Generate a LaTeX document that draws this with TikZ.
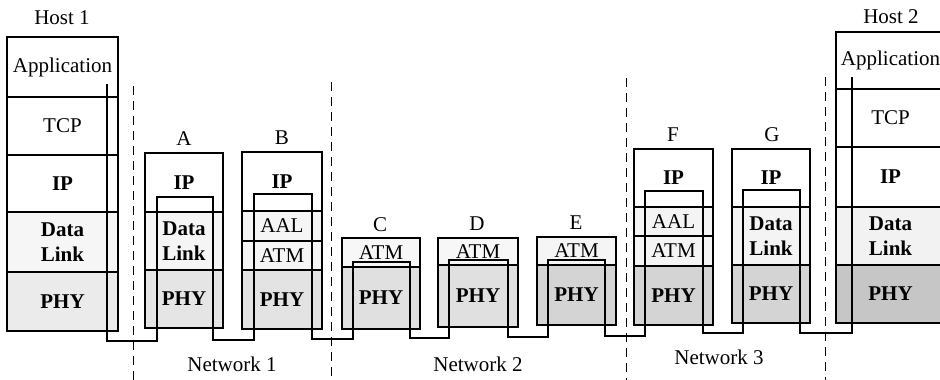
\documentclass[tikz,border=0pt]{standalone}
\usepackage{fontspec}
\setmainfont{Liberation Serif}
\newcommand{\stackrow}[7]{\node[layer, fill=#6, minimum width={(#4-#2)*1pt}, minimum height={(#5-#3)*1pt}] (#1) at ({(#2+#4)/2},{(#3+#5)/2}) {#7};}
\begin{document}
\begin{tikzpicture}[x=1pt,y=-1pt,
  layer/.style={draw=black, line width=1.1pt, inner sep=0pt, align=center, font=\fontsize{21}{25}\selectfont},
  tag/.style={font=\fontsize{21}{25}\selectfont, inner sep=0pt},
  route/.style={line width=1.9pt, line join=miter},
  sep/.style={line width=1pt, dash pattern=on 9pt off 6pt}]
\useasboundingbox[fill=white] (0,0) rectangle (940,380);

% Host 1
\stackrow{h1app}{7}{37}{118}{97}{white}{Application}
\stackrow{h1tcp}{7}{97}{118}{155}{white}{TCP}
\stackrow{h1ip}{7}{155}{118}{212}{white}{\textbf{IP}}
\stackrow{h1dl}{7}{212}{118}{272}{gray!7}{\textbf{Data}\\\textbf{Link}}
\stackrow{h1phy}{7}{272}{118}{331}{gray!16}{\textbf{PHY}}
\node[tag] (lh1) at (62,18) {Host 1};

% A
\stackrow{aip}{145}{153}{223}{212}{white}{\textbf{IP}}
\stackrow{adl}{145}{212}{223}{270}{gray!8}{\textbf{Data}\\\textbf{Link}}
\stackrow{aphy}{145}{270}{223}{328}{gray!20}{\textbf{PHY}}
\node[tag] (la) at (184,139) {A};

% B
\stackrow{bip}{242}{152}{322}{211}{white}{\textbf{IP}}
\stackrow{baal}{242}{211}{322}{241}{gray!8}{AAL}
\stackrow{batm}{242}{241}{322}{270}{gray!8}{ATM}
\stackrow{bphy}{242}{270}{322}{329}{gray!22}{\textbf{PHY}}
\node[tag] (lb) at (282,138) {B};

% C
\stackrow{catm}{342}{238}{420}{267}{gray!6}{ATM}
\stackrow{cphy}{342}{267}{420}{329}{gray!24}{\textbf{PHY}}
\node[tag] (lc) at (380,225) {C};

% D
\stackrow{datm}{438}{238}{518}{265}{gray!6}{ATM}
\stackrow{dphy}{438}{265}{518}{327}{gray!24}{\textbf{PHY}}
\node[tag] (ld) at (477,224) {D};

% E
\stackrow{eatm}{537}{237}{616}{265}{gray!8}{ATM}
\stackrow{ephy}{537}{265}{616}{325}{gray!34}{\textbf{PHY}}
\node[tag] (le) at (576,223) {E};

% F
\stackrow{fip}{634}{149}{713}{207}{white}{\textbf{IP}}
\stackrow{faal}{634}{207}{713}{236}{gray!9}{AAL}
\stackrow{fatm}{634}{236}{713}{266}{gray!9}{ATM}
\stackrow{fphy}{634}{266}{713}{325}{gray!34}{\textbf{PHY}}
\node[tag] (lf) at (673,135) {F};

% G
\stackrow{gip}{732}{149}{810}{207}{white}{\textbf{IP}}
\stackrow{gdl}{732}{207}{810}{265}{gray!9}{\textbf{Data}\\\textbf{Link}}
\stackrow{gphy}{732}{265}{810}{323}{gray!34}{\textbf{PHY}}
\node[tag] (lg) at (772,135) {G};

% Host 2
\stackrow{h2app}{836}{32}{945}{89}{white}{Application}
\stackrow{h2tcp}{836}{89}{945}{147}{white}{TCP}
\stackrow{h2ip}{836}{147}{945}{207}{white}{\textbf{IP}}
\stackrow{h2dl}{836}{207}{945}{265}{gray!10}{\textbf{Data}\\\textbf{Link}}
\stackrow{h2phy}{836}{265}{945}{323}{gray!45}{\textbf{PHY}}
\node[tag] (lh2) at (891,17) {Host 2};

% data path
\coordinate (pstart) at (107,84);
\coordinate (pend) at (852,77);
\draw[route] (pstart) -- (107,341) -- (157,341) -- (157,197) -- (213,197) -- (213,340)
  -- (254,340) -- (254,194) -- (312,194) -- (312,339) -- (353,339) -- (353,262)
  -- (410,262) -- (410,338) -- (449,338) -- (449,260) -- (508,260) -- (508,337)
  -- (548,337) -- (548,260) -- (605,260) -- (605,336) -- (645,336) -- (645,191)
  -- (703,191) -- (703,333) -- (743,333) -- (743,190) -- (800,190) -- (800,333)
  -- (852,333) -- (pend);

% network boundaries
\coordinate (d1t) at (133,86);  \coordinate (d1b) at (133,380);
\coordinate (d2t) at (331,82);  \coordinate (d2b) at (331,380);
\coordinate (d3t) at (626,78);  \coordinate (d3b) at (626,380);
\coordinate (d4t) at (825,77);  \coordinate (d4b) at (825,380);
\draw[sep] (d1t) -- (d1b);
\draw[sep] (d2t) -- (d2b);
\draw[sep] (d3t) -- (d3b);
\draw[sep] (d4t) -- (d4b);

\node[tag] (n1) at (232,364) {Network 1};
\node[tag] (n2) at (478,364) {Network 2};
\node[tag] (n3) at (719,357) {Network 3};
\end{tikzpicture}
\end{document}
